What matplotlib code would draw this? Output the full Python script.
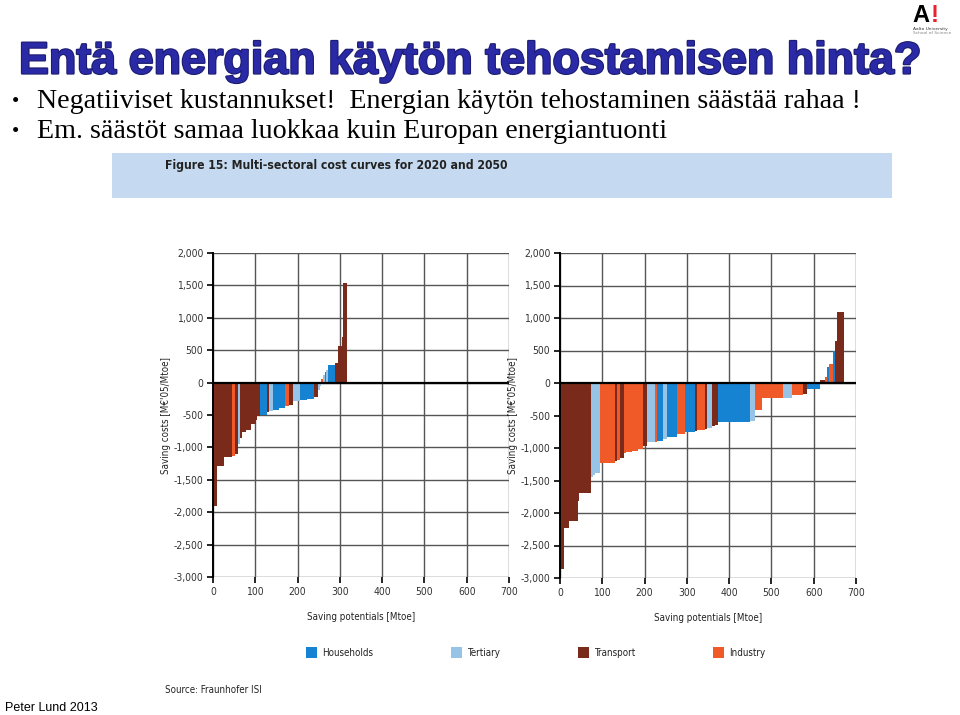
import matplotlib
matplotlib.use('Agg')
import matplotlib.pyplot as plt
import matplotlib.patheffects as pe
import numpy as np
from matplotlib.patches import Rectangle
from matplotlib.ticker import FuncFormatter

# sectors: H = Households, T = Tertiary, R = Transport, I = Industry
sector_names = ['Households', 'Tertiary', 'Transport', 'Industry']
sector_colors = {'H': '#1682d2', 'T': '#96c3e6', 'R': '#7a2a1a', 'I': '#ef5a28'}

# 2020 curve: widths [Mtoe], saving costs [M€'05/Mtoe], sector
w2020 = [10, 15, 21, 7, 6, 4, 6, 8, 13, 11, 4, 5, 18, 4, 10, 15, 13, 10, 9, 16,
         17, 18, 8, 4, 4, 4, 4, 4, 4, 16, 8, 8, 3, 11]
c2020 = [-1900, -1290, -1150, -1140, -1100, -950, -850, -770, -730, -640, -570, -520,
         -495, -460, -440, -425, -395, -360, -345, -290, -270, -250, -225, -120, -50,
         50, 110, 160, 190, 275, 300, 560, 710, 1540]
s2020 = ['R', 'R', 'R', 'I', 'R', 'T', 'R', 'R', 'R', 'R', 'R', 'R',
         'H', 'R', 'T', 'H', 'H', 'I', 'R', 'T', 'H', 'H', 'R', 'T', 'T',
         'I', 'T', 'H', 'T', 'H', 'R', 'R', 'R', 'R']

# 2050 curve
w2050 = [10, 12, 19.5, 4, 27.5, 4, 5, 12, 36, 4, 8, 10, 5, 13, 15, 12, 8, 20, 5, 14,
         8, 24, 20, 23, 4, 20, 4, 12, 8, 7, 75, 12, 16, 51, 20, 27, 8, 32,
         12, 4, 4, 10, 6, 5, 16]
c2050 = [-2860, -2236, -2118, -1810, -1697, -1450, -1420, -1380, -1230, -1200, -1190,
         -1150, -1080, -1060, -1040, -1010, -970, -910, -900, -890, -860, -835, -780,
         -760, -740, -725, -710, -690, -660, -640, -605, -580, -420, -237, -237, -184,
         -170, -90, 40, 100, 240, 300, 500, 640, 1100]
s2050 = ['R', 'R', 'R', 'R', 'R', 'T', 'T', 'T', 'I', 'R', 'I',
         'R', 'I', 'I', 'I', 'I', 'R', 'T', 'I', 'H', 'T', 'H', 'I',
         'H', 'R', 'I', 'R', 'T', 'R', 'R', 'H', 'T', 'I', 'I', 'T', 'I',
         'R', 'H', 'R', 'I', 'H', 'I', 'H', 'R', 'R']

x_ticks = [0, 100, 200, 300, 400, 500, 600, 700]
y_ticks = [-3000, -2500, -2000, -1500, -1000, -500, 0, 500, 1000, 1500, 2000]

W, H = 960, 715
fig = plt.figure(figsize=(W / 100, H / 100), dpi=100)
fig.patch.set_facecolor('white')

def fx(px):
    return px / W

def fy(py):
    return 1 - py / H

narrow = dict(family=['DejaVu Sans'], fontstretch='condensed')

# slide header
fig.text(fx(19), fy(62), 'Entä energian käytön tehostamisen hinta?', fontsize=32.3,
         fontweight='bold', color='#2a2aa6', family=['Liberation Sans', 'DejaVu Sans'],
         va='center', ha='left',
         path_effects=[pe.withStroke(linewidth=1.6, foreground='#1c1c70')])
fig.text(fx(12), fy(102), '•', fontsize=15, family='Liberation Serif', va='center')
fig.text(fx(12), fy(133), '•', fontsize=15, family='Liberation Serif', va='center')
fig.text(fx(37), fy(101), 'Negatiiviset kustannukset!  Energian käytön tehostaminen säästää rahaa !',
         fontsize=20.2, family='Liberation Serif', va='center')
fig.text(fx(37), fy(132), 'Em. säästöt samaa luokkaa kuin Europan energiantuonti',
         fontsize=20.2, family='Liberation Serif', va='center')

# logo
fig.text(fx(912), fy(16), 'A', fontsize=17, fontweight='bold', color='black',
         family='Liberation Sans', va='center')
fig.text(fx(931), fy(16), '!', fontsize=17, fontweight='bold', color='#e8232f',
         family='Liberation Sans', va='center')
fig.text(fx(913), fy(29), 'Aalto University', fontsize=3.2, color='#333333', va='center')
fig.text(fx(913), fy(33), 'School of Science', fontsize=3.2, color='#888888', va='center')

# figure caption band
fig.patches.append(Rectangle((fx(112), fy(198)), fx(892) - fx(112), fy(153) - fy(198),
                             transform=fig.transFigure, facecolor='#c5daf0',
                             edgecolor='none', zorder=0))
fig.text(fx(165), fy(166), 'Figure 15: Multi-sectoral cost curves for 2020 and 2050',
         fontsize=8.7, fontweight='bold', color='#222222', va='center', **narrow)

def draw_curve(ax, widths, costs, sectors):
    lefts = np.concatenate([[0], np.cumsum(widths)[:-1]])
    colors = [sector_colors[s] for s in sectors]
    ax.bar(lefts, costs, width=widths, align='edge', color=colors, linewidth=0, zorder=2)
    ax.set_xlim(0, 700)
    ax.set_ylim(-3000, 2000)
    ax.set_xticks(x_ticks)
    ax.set_yticks(y_ticks)
    ax.grid(True, color='#555555', linewidth=1.0, zorder=0)
    ax.set_axisbelow(True)
    ax.axhline(0, color='black', linewidth=1.6, zorder=3)
    for side in ['top', 'right', 'bottom']:
        ax.spines[side].set_visible(False)
    ax.spines['left'].set_color('black')
    ax.spines['left'].set_linewidth(1.4)
    ax.yaxis.set_major_formatter(FuncFormatter(lambda v, p: format(int(v), ',')))
    ax.tick_params(axis='both', labelsize=7.5, labelcolor='#333333', length=4, width=1.2,
                   color='black', direction='out', pad=3)
    for lab in ax.get_xticklabels() + ax.get_yticklabels():
        lab.set_fontstretch('condensed')
    ax.set_xlabel('Saving potentials [Mtoe]', fontsize=7, color='#222222',
                  labelpad=11, **narrow)
    ax.set_ylabel("Saving costs [M€'05/Mtoe]", fontsize=7, color='#222222',
                  labelpad=2, **narrow)

ax1 = fig.add_axes([fx(213), fy(577), fx(509) - fx(213), fy(253) - fy(577)])
draw_curve(ax1, w2020, c2020, s2020)
ax2 = fig.add_axes([fx(560), fy(578), fx(856) - fx(560), fy(253) - fy(578)])
draw_curve(ax2, w2050, c2050, s2050)

# legend
legend_x = [306, 451, 578, 713]
for name, key, lx in zip(sector_names, ['H', 'T', 'R', 'I'], legend_x):
    fig.patches.append(Rectangle((fx(lx), fy(658)), fx(11), fx(11) * W / H,
                                 transform=fig.transFigure, facecolor=sector_colors[key],
                                 edgecolor='none'))
    fig.text(fx(lx + 16), fy(653), name, fontsize=7, color='#222222',
             va='center', **narrow)

fig.text(fx(165), fy(690), 'Source: Fraunhofer ISI', fontsize=7,
         color='#222222', va='center', **narrow)
fig.text(fx(5), fy(708), 'Peter Lund 2013', fontsize=9, family='Liberation Sans',
         color='black', va='center')

fig.savefig('out.png', dpi=100)
